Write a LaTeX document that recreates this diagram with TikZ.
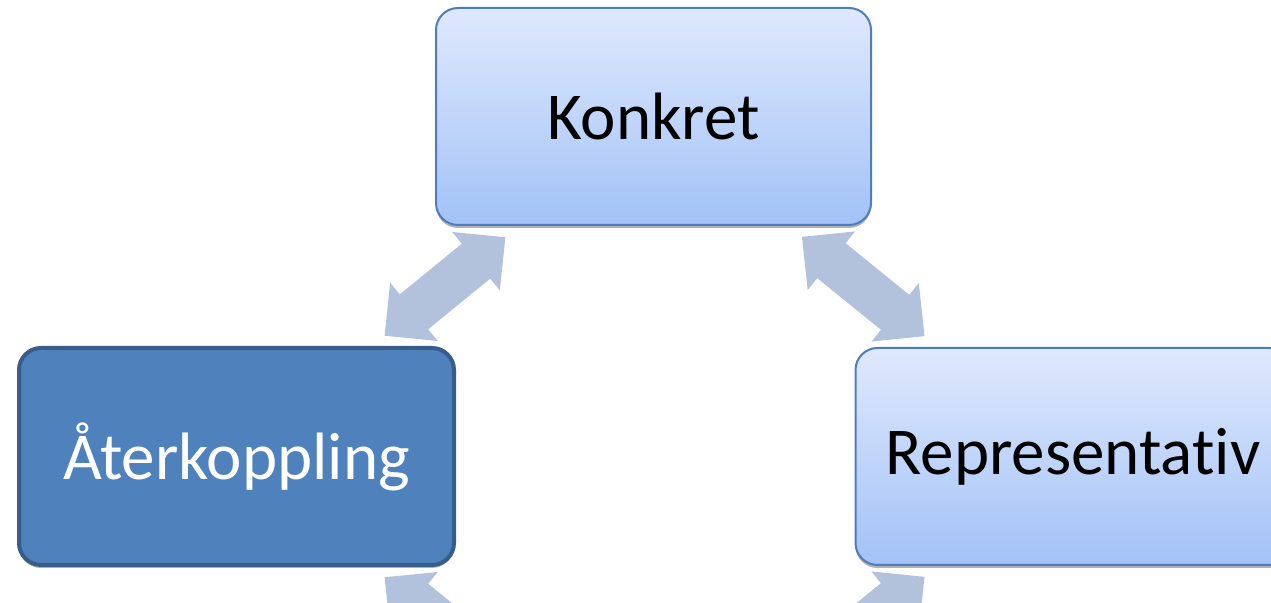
\documentclass[tikz,border=0pt]{standalone}
\usepackage{fontspec}
\setmainfont{Carlito}[Ligatures=NoCommon]
\usetikzlibrary{arrows.meta,shadows}
\definecolor{boxtop}{RGB}{223,233,253}
\definecolor{boxbottom}{RGB}{163,194,247}
\definecolor{boxline}{RGB}{79,124,190}
\definecolor{darkfill}{RGB}{79,129,189}
\definecolor{darkline}{RGB}{56,93,138}
\definecolor{arrowblue}{RGB}{178,194,220}
\tikzset{
  stagebase/.style={rectangle, rounded corners=11pt, minimum width=217.5pt, minimum height=108.5pt,
    font=\fontsize{33.5}{40}\selectfont,
    drop shadow={shadow xshift=0pt, shadow yshift=-1.5pt, opacity=0.3, fill=black}},
  stage/.style={stagebase, draw=boxline, line width=1pt, top color=boxtop, bottom color=boxbottom},
  stagedark/.style={stagebase, draw=darkline, line width=2pt, fill=darkfill, text=white},
  swap/.style={draw=arrowblue, line width=22.5pt,
    {Triangle[length=19pt,width=36.5pt]}-{Triangle[length=19pt,width=36.5pt]},
    shorten <=95.5pt, shorten >=95.5pt}
}
\begin{document}
\begin{tikzpicture}[x=0.5pt,y=0.5pt,yscale=-1]
\useasboundingbox (0,0) rectangle (1271,603);
\clip (0,0) rectangle (1271,603);

% boxes
\node [stage] (konkret) at (653.5,116.5) {Konkret};
\node [stagedark] (aterkoppling) at (236.5,456.5) {Återkoppling};
\node [stage] (representativ) at (1073,456.5) {Representativ};
% free end below the picture
\coordinate (botten) at (653.5,796.5);

% double arrows
\draw [swap] (aterkoppling.center) -- (konkret.center);
\draw [swap] (konkret.center) -- (representativ.center);
\draw [swap] (aterkoppling.center) -- (botten);
\draw [swap] (representativ.center) -- (botten);

\end{tikzpicture}
\end{document}
